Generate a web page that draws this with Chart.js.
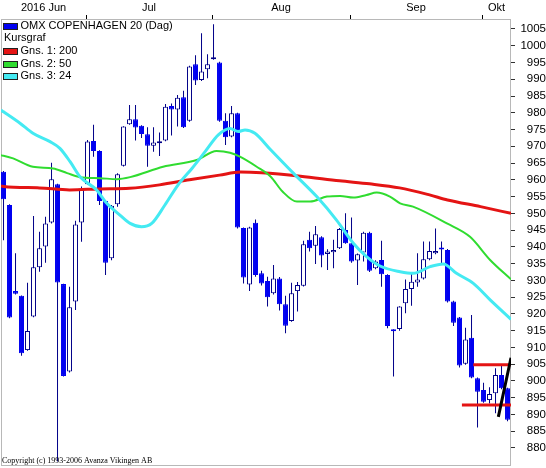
<!DOCTYPE html>
<html><head><meta charset="utf-8">
<script src="https://cdn.jsdelivr.net/npm/chart.js@4.4.0/dist/chart.umd.min.js"></script>
<style>html,body{margin:0;padding:0;background:#fff;overflow:hidden;}</style>
</head><body>
<canvas id="c" width="546" height="468"></canvas>
<script>
// ---- data (one candle per trading day, 13 Jun - 7 Oct 2016) ----
const monthLabels = ['2016 Jun', 'Jul', 'Aug', 'Sep', 'Okt'];
const monthFirstIdx = [0, 14, 35, 58, 80];
const yTickValues = [880,885,890,895,900,905,910,915,920,925,930,935,940,945,950,955,960,965,970,975,980,985,990,995,1000,1005];
const seriesNames = ['OMX COPENHAGEN 20 (Dag)', 'Kursgraf', 'Gns. 1: 200', 'Gns. 2: 50', 'Gns. 3: 24'];

const open  = [962.4,952.5,926.8,925.4,909.2,919.2,933.9,940.1,947.3,958.7,928.9,902.8,923.7,947.3,958.7,971.6,968.6,953.7,936.6,952.7,964.2,976.6,978.1,976.1,973.6,970.2,970.9,971.7,982.0,981.0,984.6,977.6,994.5,989.8,993.0,996.0,995.0,977.6,972.9,979.9,945.6,928.8,947.2,932.1,929.8,926.2,930.6,922.9,917.9,926.8,928.4,942.1,940.3,942.9,937.9,938.4,939.6,945.0,941.1,935.9,938.3,944.2,933.6,936.1,931.6,915.2,915.5,923.2,927.4,929.4,930.6,936.3,938.1,939.6,939.1,923.7,918.9,905.1,912.9,900.8,897.3,894.3,896.3,901.8,897.8];
const high  = [962.6,952.7,938.1,925.5,929.3,949.2,944.5,949.0,965.1,958.8,929.0,928.1,947.8,958.0,971.9,976.4,968.8,954.0,952.5,962.0,976.0,982.3,982.3,976.3,975.7,975.7,974.1,982.6,982.8,985.3,986.6,994.0,997.2,1003.7,997.5,1006.4,995.2,979.9,982.0,980.0,945.8,946.0,948.2,932.9,931.1,934.6,931.0,925.4,929.3,929.5,941.8,944.5,946.2,943.2,939.3,942.1,945.6,950.0,948.8,938.0,944.5,944.5,936.0,941.8,931.8,915.4,922.3,930.3,932.3,938.1,941.6,941.6,945.5,941.6,939.4,923.9,919.1,915.9,919.7,901.0,899.5,898.1,903.8,904.8,898.0];
const low   = [942.0,918.7,925.8,907.5,909.0,919.0,932.6,935.3,947.0,876.0,901.3,902.5,921.2,941.5,958.5,966.9,952.5,931.6,936.0,952.0,964.0,976.4,971.7,972.5,963.9,968.4,967.1,971.5,973.2,975.9,975.5,977.3,988.3,989.5,990.3,995.8,977.3,970.4,972.7,945.5,929.1,926.8,931.1,928.5,922.2,925.8,921.0,914.2,917.7,920.7,928.2,938.6,934.9,933.9,933.1,933.6,939.4,940.9,935.3,928.6,935.6,932.5,933.3,928.1,915.7,901.3,915.0,920.2,922.4,928.1,930.3,936.0,937.8,935.1,923.4,916.4,904.0,904.8,900.8,886.1,893.5,893.3,890.4,897.5,888.0];
const close = [954.2,918.9,926.0,908.3,914.9,933.9,939.6,947.0,960.2,929.4,901.5,922.0,946.7,957.0,971.4,968.6,953.7,935.3,952.3,961.7,975.9,978.1,975.6,973.7,970.2,971.1,971.0,981.8,981.0,984.5,975.7,993.8,989.6,992.3,994.5,996.2,977.6,972.7,979.9,945.8,930.9,945.8,931.6,929.1,925.0,930.6,922.9,916.5,926.2,928.6,940.8,939.6,943.8,937.4,938.6,939.1,945.3,941.1,935.6,937.8,944.2,932.9,935.6,931.8,916.4,914.8,922.2,927.4,929.6,930.3,936.3,938.8,938.8,939.2,923.7,917.4,904.6,912.4,901.0,896.8,893.8,896.1,901.8,897.8,888.4];

// moving averages, read at points along each line (x = candle index)
const ma200X = [-0.42, 0, 6, 11, 16, 21, 26, 31, 36, 39.5, 43, 49.5, 56, 61, 66, 71, 74, 79.5, 84.58];
const ma200Y = [958.2, 958.0, 957.6, 957.0, 957.3, 957.5, 958.5, 960.0, 961.4, 962.3, 962.1, 961.1, 959.7, 958.8, 957.6, 955.5, 954.0, 952.0, 950.0];
const ma50X = [-0.42, 0, 1.6, 4.9, 8.25, 10.6, 12.75, 16.1, 18.9, 21.1, 26.6, 32.2, 35.5, 37.75, 39.4, 42.2, 44.5, 46.5, 48.9, 51.1, 53.9, 56.1, 58.3, 60.5, 62.2, 64.4, 66.1, 68.25, 73.9, 77.75, 81.1, 84.58];
const ma50Y = [967.3, 967.2, 966.4, 963.9, 963.4, 962.0, 960.8, 960.5, 960.2, 960.8, 963.9, 965.9, 968.6, 968.1, 966.9, 963.9, 961.0, 956.5, 953.5, 953.5, 955.0, 955.2, 954.7, 955.5, 956.2, 955.0, 953.0, 952.0, 947.0, 943.0, 936.1, 930.3];
const ma24X = [-0.42, 0, 2.75, 4.9, 7.75, 9.4, 11.1, 12.75, 15.5, 17.2, 19.4, 21.1, 23, 24.7, 26.9, 29.1, 31.4, 33.6, 35.8, 37.75, 39.1, 40.25, 41.9, 44.4, 48.3, 52.2, 55.5, 58.3, 60.5, 62.75, 66.1, 68.3, 71.1, 73.3, 75.5, 78.3, 81.1, 84.58];
const ma24Y = [980.8, 980.3, 976.9, 973.9, 971.4, 969.4, 965.4, 960.9, 957.0, 953.0, 949.5, 947.0, 946.0, 947.0, 952.5, 958.5, 963.4, 968.4, 973.4, 975.3, 974.4, 974.9, 973.9, 969.2, 962.0, 955.0, 948.0, 941.1, 937.1, 934.3, 932.6, 932.1, 934.1, 934.9, 932.1, 929.1, 924.2, 918.4];

// user-drawn lines on the chart
const trendX = [82.47, 84.58];  const trendY = [889.3, 906.9];
const resistX = [78.3, 84.58];  const resistY = [904.8, 904.8];
const supportX = [76.4, 84.58]; const supportY = [892.8, 892.8];

// ---- chart ----
const X_MIN = -0.42, X_MAX = 84.58, Y_MIN = 874.63, Y_MAX = 1007.98;
const RED = '#e41414', GREEN = '#30dc30', CYAN = '#44eaf2', BLUE = '#0000f0', NAVY = '#000088';
const pts = (xs, ys) => xs.map((x, i) => ({x, y: ys[i]}));
const isUp = open.map((o, i) => close[i] >= o);

const bounds = monthFirstIdx.slice(1).map(i => i - 0.25);
const edges = [X_MIN, ...bounds, X_MAX];
const xTicks = [];
monthLabels.forEach((lab, k) => {
  xTicks.push({value: (edges[k] + edges[k + 1]) / 2, label: lab});
  if (k < bounds.length) xTicks.push({value: bounds[k], label: ''});
});

const lineDs = (label, xs, ys, color, w, order) => ({
  type: 'line', label, data: pts(xs, ys), borderColor: color, borderWidth: w,
  pointRadius: 0, cubicInterpolationMode: 'monotone', fill: false, order
});

const framePlugin = {
  id: 'frame',
  beforeDatasetsDraw(chart) {
    const {ctx, chartArea: a} = chart;
    ctx.save();
    ctx.strokeStyle = '#b8b8b8'; ctx.lineWidth = 1;
    ctx.strokeRect(a.left + 0.5, a.top + 0.5, a.right - a.left - 1, a.bottom - a.top - 1);
    ctx.restore();
  },
  afterDraw(chart) {
    const {ctx, chartArea: a} = chart;
    const colors = [BLUE, null, RED, GREEN, CYAN];
    ctx.save();
    ctx.font = '11px "Liberation Sans", Arial, sans-serif';
    ctx.textBaseline = 'middle';
    ctx.fillStyle = '#000';
    seriesNames.forEach((name, k) => {
      const cy = a.top + 6.5 + k * 12.7;
      if (colors[k]) {
        ctx.fillStyle = colors[k];
        ctx.fillRect(a.left + 2.5, Math.round(cy - 3) , 14, 6);
        ctx.strokeStyle = '#202020'; ctx.lineWidth = 1;
        ctx.strokeRect(a.left + 2.5, Math.round(cy - 3) + 0.5, 14, 6);
        ctx.fillStyle = '#000';
        ctx.fillText(name, a.left + 19.5, cy);
      } else {
        ctx.fillText(name, a.left + 3, cy);
      }
    });
    ctx.font = '8px "Liberation Serif", "Times New Roman", serif';
    ctx.textBaseline = 'alphabetic';
    ctx.fillText('Copyright (c) 1993-2006 Avanza Vikingen AB', a.left + 1, a.bottom - 3);
    ctx.restore();
  }
};

new Chart(document.getElementById('c'), {
  type: 'bar',
  data: {
    datasets: [
      lineDs('trend', trendX, trendY, '#000000', 3, -3),
      lineDs('resist', resistX, resistY, RED, 3, -2),
      lineDs('support', supportX, supportY, RED, 3, -2),
      lineDs(seriesNames[4], ma24X, ma24Y, CYAN, 3, 0),
      lineDs(seriesNames[3], ma50X, ma50Y, GREEN, 2, 1),
      lineDs(seriesNames[2], ma200X, ma200Y, RED, 3, 2),
      {
        type: 'bar', label: 'body', order: 3, grouped: false,
        data: open.map((o, i) => ({x: i, y: [Math.min(o, close[i]), Math.max(o, close[i])]})),
        backgroundColor: isUp.map(u => u ? '#ffffff' : BLUE),
        borderColor: isUp.map(u => u ? NAVY : BLUE),
        borderWidth: 1, borderSkipped: false, barThickness: 5, minBarLength: 2, inflateAmount: 0
      },
      {
        type: 'bar', label: 'wick', order: 4, grouped: false,
        data: low.map((l, i) => ({x: i, y: [l, high[i]]})),
        backgroundColor: NAVY, borderWidth: 0, barThickness: 1, inflateAmount: 0
      }
    ]
  },
  options: {
    responsive: false, animation: false, devicePixelRatio: 1,
    layout: {padding: {left: 1, top: 0, right: 0, bottom: 2}},
    plugins: {legend: {display: false}, tooltip: {enabled: false}},
    scales: {
      x: {
        type: 'linear', position: 'top', min: X_MIN, max: X_MAX, offset: false,
        afterBuildTicks: s => { s.ticks = xTicks.map(t => ({value: t.value})); },
        afterFit: s => { s.height = 19; s.paddingLeft = 0; s.paddingRight = 0; },
        ticks: {
          autoSkip: false, maxRotation: 0, padding: 0, color: '#000',
          font: {family: '"Liberation Sans", Arial, sans-serif', size: 11},
          callback: (v, i) => xTicks[i] ? xTicks[i].label : ''
        },
        grid: {
          offset: false, drawOnChartArea: false, drawTicks: true, tickLength: 4, tickWidth: 1,
          tickColor: ctx => (ctx.tick && bounds.includes(ctx.tick.value)) ? '#000' : 'rgba(0,0,0,0)'
        },
        border: {display: false}
      },
      y: {
        type: 'linear', position: 'right', min: Y_MIN, max: Y_MAX,
        afterBuildTicks: s => { s.ticks = yTickValues.map(v => ({value: v})); },
        afterFit: s => { s.width = 35; s.paddingTop = 0; s.paddingBottom = 0; },
        ticks: {
          autoSkip: false, padding: 4, crossAlign: 'far', color: '#000',
          font: {family: '"Liberation Sans", Arial, sans-serif', size: 11.5},
          callback: v => String(v)
        },
        grid: {drawOnChartArea: false, drawTicks: true, tickLength: 4, tickColor: '#303030'},
        border: {display: false}
      }
    }
  },
  plugins: [framePlugin]
});
</script>
</body></html>
